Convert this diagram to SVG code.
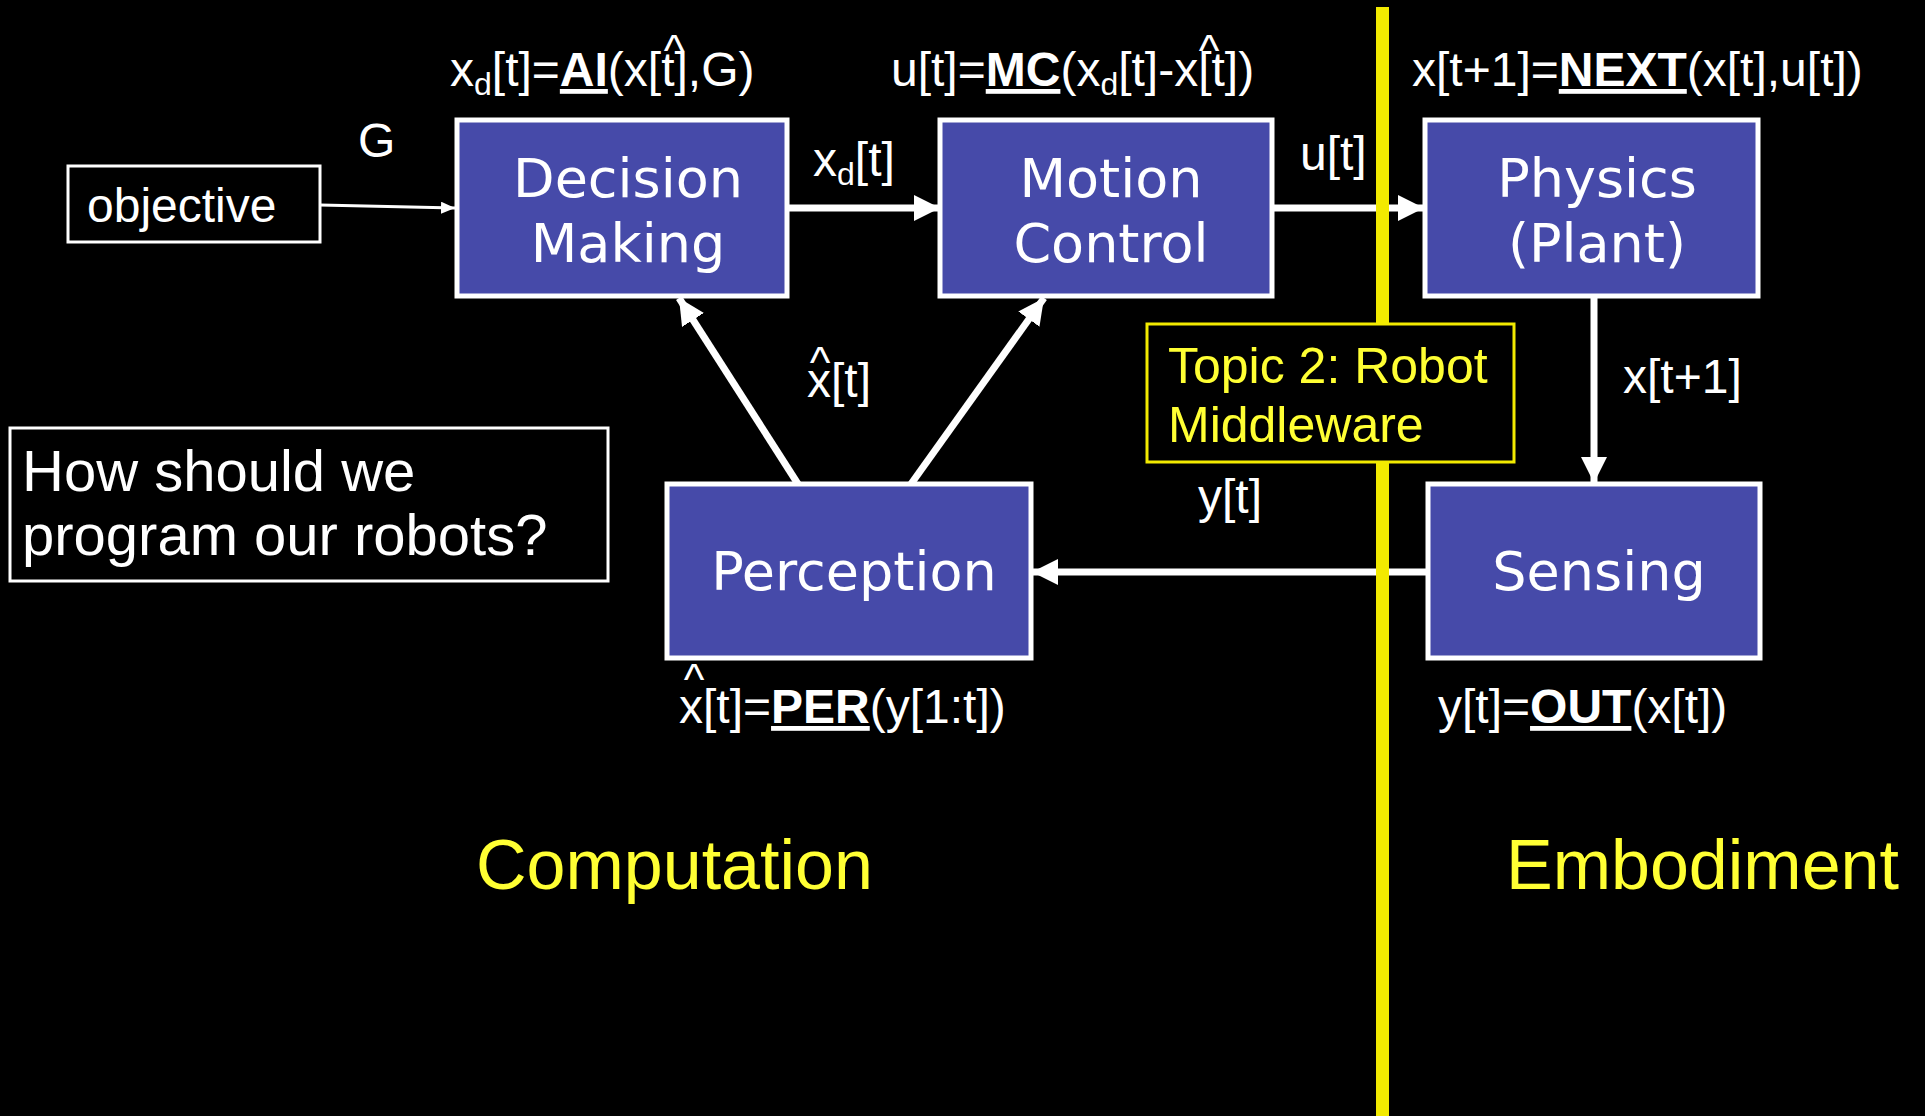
<svg xmlns="http://www.w3.org/2000/svg" width="1925" height="1116" viewBox="0 0 1925 1116">
<style>
.box{fill:#464AA9;stroke:#fff;stroke-width:5}
.lbl{font-family:"DejaVu Sans",sans-serif;font-size:54px;fill:#fff;text-anchor:middle}
.f{font-family:"Liberation Sans",Arial,sans-serif;font-size:48px;fill:#fff}
.b{font-weight:bold;text-decoration:underline}
.hat{font-family:"Liberation Sans",Arial,sans-serif;font-size:44px;fill:#fff;text-anchor:middle}
.wire{stroke:#fff;stroke-width:7;fill:none}
.thin{stroke:#fff;stroke-width:3;fill:none}
.yt{font-family:"Liberation Sans",Arial,sans-serif;fill:#FFFF33}
</style>
<defs>
<marker id="ah" markerUnits="userSpaceOnUse" markerWidth="28" markerHeight="28" refX="26" refY="13" orient="auto">
<path d="M0,0 L26,13 L0,26 z" fill="#fff"/>
</marker>
<marker id="ahs" markerUnits="userSpaceOnUse" markerWidth="16" markerHeight="14" refX="14" refY="6" orient="auto">
<path d="M0,0 L14,6 L0,12 z" fill="#fff"/>
</marker>
</defs>
<rect width="1925" height="1116" fill="#000"/>

<g id="connectors">
<line class="thin" x1="320" y1="205" x2="455" y2="208" marker-end="url(#ahs)"/>
<line class="wire" x1="787" y1="208" x2="940" y2="208" marker-end="url(#ah)"/>
<line class="wire" x1="1272" y1="208" x2="1424" y2="208" marker-end="url(#ah)"/>
<line class="wire" x1="1594" y1="296" x2="1594" y2="483" marker-end="url(#ah)"/>
<line class="wire" x1="1428" y1="572" x2="1032" y2="572" marker-end="url(#ah)"/>
<line class="wire" x1="798" y1="484" x2="679" y2="298" marker-end="url(#ah)"/>
<line class="wire" x1="911" y1="484" x2="1044" y2="298" marker-end="url(#ah)"/>
</g>

<rect id="divider" x="1376" y="7" width="13" height="1109" fill="#F2EA00"/>

<g id="decision-making">
<rect class="box" x="457" y="120" width="330" height="176"/>
<text class="lbl" x="628" y="197">Decision</text>
<text class="lbl" x="628" y="262">Making</text>
</g>
<g id="motion-control">
<rect class="box" x="940" y="120" width="332" height="176"/>
<text class="lbl" x="1111" y="197">Motion</text>
<text class="lbl" x="1111" y="262">Control</text>
</g>
<g id="physics">
<rect class="box" x="1425" y="120" width="333" height="176"/>
<text class="lbl" x="1597" y="197">Physics</text>
<text class="lbl" x="1597" y="262">(Plant)</text>
</g>
<g id="perception">
<rect class="box" x="667" y="484" width="364" height="174"/>
<text class="lbl" x="854" y="590">Perception</text>
</g>
<g id="sensing">
<rect class="box" x="1428" y="484" width="332" height="174"/>
<text class="lbl" x="1599" y="590">Sensing</text>
</g>
<g id="objective">
<rect x="68" y="166" width="252" height="76" fill="none" stroke="#fff" stroke-width="3"/>
<text class="f" x="87" y="222">objective</text>
</g>
<g id="question">
<rect x="10" y="428" width="598" height="153" fill="none" stroke="#fff" stroke-width="3"/>
<text class="f" style="font-size:58px" x="22" y="491">How should we</text>
<text class="f" style="font-size:58px" x="22" y="555">program our robots?</text>
</g>
<g id="topic2">
<rect x="1147" y="324" width="367" height="138" fill="#000" stroke="#F2EA00" stroke-width="3"/>
<text class="yt" style="font-size:50px" x="1168" y="383">Topic 2: Robot</text>
<text class="yt" style="font-size:50px" x="1168" y="442">Middleware</text>
</g>

<g id="labels">
<text class="f" x="358" y="157">G</text>
<text class="f" x="813" y="176">x<tspan font-size="32" dy="9">d</tspan><tspan dy="-9">[t]</tspan></text>
<text class="f" x="1300" y="170">u[t]</text>
<text class="f" x="807" y="397">x[t]</text>
<text class="hat" x="820" y="378">^</text>
<text class="f" x="1623" y="393">x[t+1]</text>
<text class="f" x="1198" y="513">y[t]</text>

<text class="f" x="450" y="86">x<tspan font-size="32" dy="9">d</tspan><tspan dy="-9">[t]=</tspan><tspan class="b">AI</tspan>(x[t],G)</text>
<text class="hat" x="674" y="66">^</text>
<text class="f" x="891" y="86">u[t]=<tspan class="b">MC</tspan>(x<tspan font-size="32" dy="9">d</tspan><tspan dy="-9">[t]-x[t])</tspan></text>
<text class="hat" x="1209" y="66">^</text>
<text class="f" x="1412" y="86">x[t+1]=<tspan class="b">NEXT</tspan>(x[t],u[t])</text>
<text class="f" x="679" y="723">x[t]=<tspan class="b">PER</tspan>(y[1:t])</text>
<text class="hat" x="694" y="695">^</text>
<text class="f" x="1438" y="723">y[t]=<tspan class="b">OUT</tspan>(x[t])</text>

<text class="yt" style="font-size:70px" x="476" y="889">Computation</text>
<text class="yt" style="font-size:70px" x="1506" y="889">Embodiment</text>
</g>
</svg>
